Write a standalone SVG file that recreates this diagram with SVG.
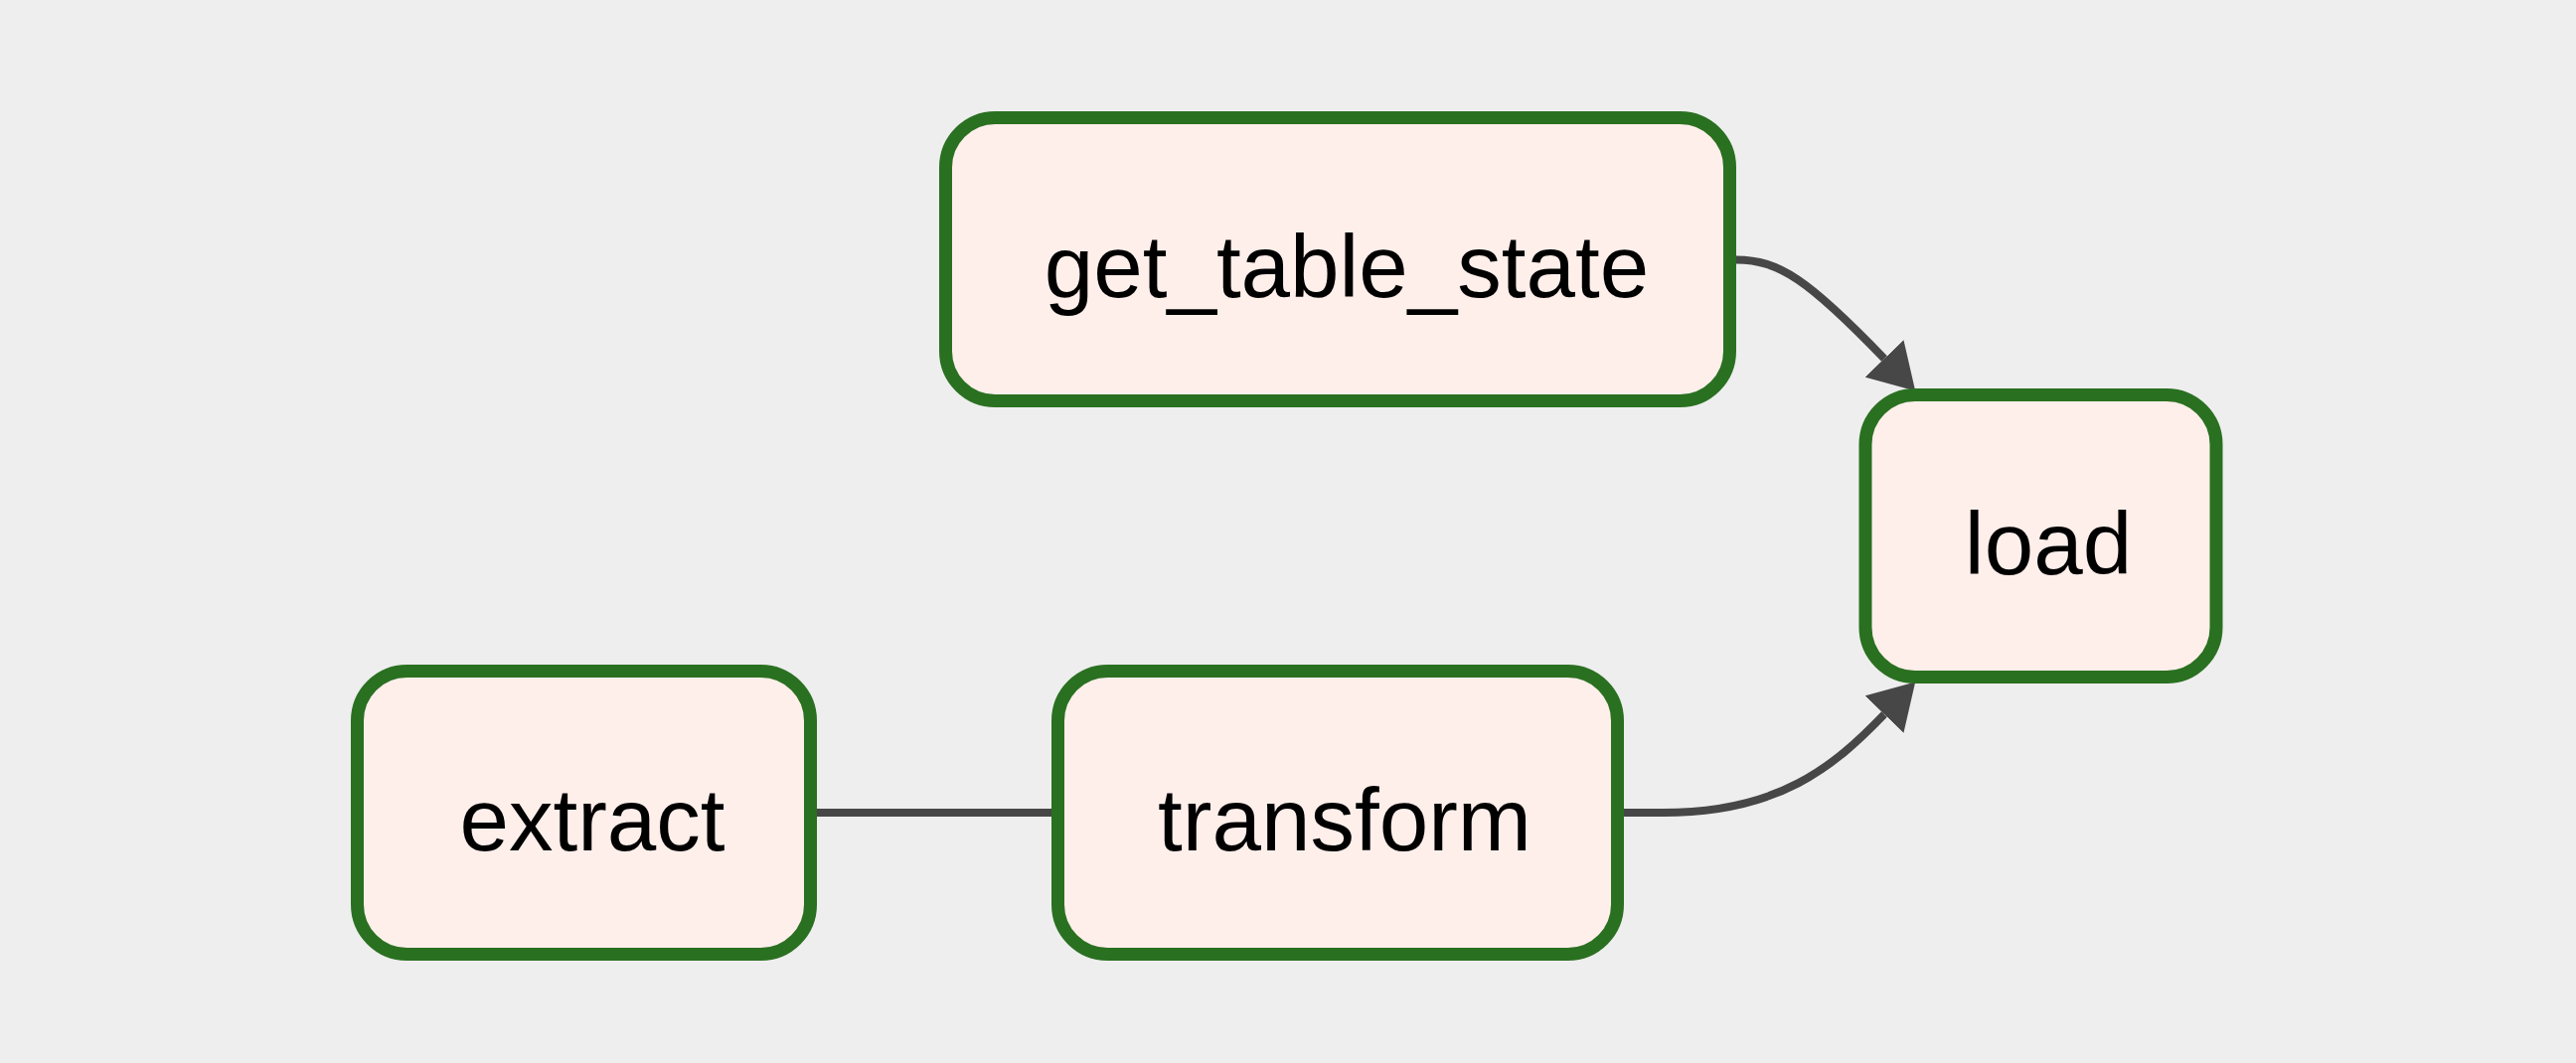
<svg xmlns="http://www.w3.org/2000/svg" width="2592" height="1070" viewBox="0 0 2592 1070">
  <style>
    .node rect { fill: #ffefeb; stroke: #2a7021; stroke-width: 13; }
    .node text { font-family: "Liberation Sans", Arial, Helvetica, sans-serif; font-size: 89px; fill: #000000; text-anchor: middle; }
    .edge { fill: none; stroke: #474747; stroke-width: 8; }
  </style>
  <defs>
    <marker id="arrow" markerUnits="userSpaceOnUse" viewBox="0 0 45 54" markerWidth="45" markerHeight="54" refX="0" refY="27" orient="auto">
      <path d="M0,0 L45,27 L0,54 Z" fill="#474747"/>
    </marker>
  </defs>
  <rect x="0" y="0" width="2592" height="1070" fill="#eeeeee"/>

  <g id="edges">
    <path class="edge" d="M822,818 L1058,818"/>
    <path class="edge" d="M1740,261.5 L1747,261.5 C1790,261.5 1820,282 1896,361" marker-end="url(#arrow)"/>
    <path class="edge" d="M1630,818 L1673,818 C1790,818 1845,772 1896,719" marker-end="url(#arrow)"/>
  </g>

  <g id="node-get_table_state" class="node">
    <rect x="951.5" y="118.5" width="789" height="285" rx="50" ry="50"/>
    <text x="1355" y="299">get_table_state</text>
  </g>
  <g id="node-load" class="node">
    <rect x="1877" y="397.5" width="353" height="284" rx="50" ry="50"/>
    <text x="2061" y="578">load</text>
  </g>
  <g id="node-extract" class="node">
    <rect x="359.5" y="675.5" width="456" height="285" rx="50" ry="50"/>
    <text x="596" y="856">extract</text>
  </g>
  <g id="node-transform" class="node">
    <rect x="1064.5" y="675.5" width="563" height="285" rx="50" ry="50"/>
    <text x="1353" y="856">transform</text>
  </g>
</svg>
